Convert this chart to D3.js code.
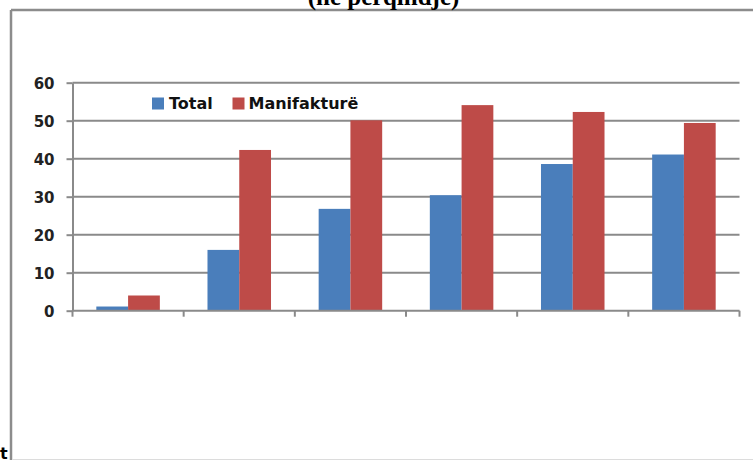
<!DOCTYPE html>
<html>
<head>
<meta charset="utf-8">
<script src="https://cdn.jsdelivr.net/npm/d3@7"></script>
<style>
  html, body { margin: 0; padding: 0; background: #fff; }
  svg { display: block; }
</style>
</head>
<body>
<svg id="chart" width="753" height="460"></svg>
<script>
// Chart data
const categories = ["1", "2", "3", "4", "5", "6"];
const seriesNames = ["Total", "Manifakturë"];
const totalValues = [1.1, 16.0, 26.8, 30.4, 38.6, 41.1];
const manifakturaValues = [4.0, 42.3, 50.1, 54.1, 52.3, 49.4];
const yTicks = [0, 10, 20, 30, 40, 50, 60];
const titleText = "(në përqindje)";

const seriesValues = [totalValues, manifakturaValues];
const colors = ["#4a7ebb", "#be4b48"];

const svg = d3.select("#chart");
const plot = { left: 72.5, right: 739.5, top: 82.7, bottom: 310.7 };

const x = d3.scaleBand().domain(categories).range([plot.left, plot.right]).padding(0);
const y = d3.scaleLinear().domain([0, 60]).range([plot.bottom, plot.top]);

// Bars take 2 of 3.5 bar widths per category (gap width 150%)
const barW = x.bandwidth() / 3.5;
const x1 = d3.scaleBand().domain(seriesNames).range([0, barW * 2]).padding(0);
const groupOffset = (x.bandwidth() - barW * 2) / 2;

const gridColor = "#8a8a8a";

// Outer frame (top and left edges)
svg.append("line").attr("x1", 11).attr("x2", 753).attr("y1", 10).attr("y2", 10)
  .attr("stroke", "#8c8c8c").attr("stroke-width", 2.5);
svg.append("line").attr("x1", 11).attr("x2", 11).attr("y1", 10).attr("y2", 460)
  .attr("stroke", "#8c8c8c").attr("stroke-width", 2.5);
svg.append("line").attr("x1", 12).attr("x2", 753).attr("y1", 459.5).attr("y2", 459.5)
  .attr("stroke", "#dcdcdc").attr("stroke-width", 1);

// Title, partly above the top edge
svg.append("text")
  .attr("x", 383.5).attr("y", 4.5)
  .attr("text-anchor", "middle")
  .attr("font-family", "'Liberation Serif', 'Times New Roman', serif")
  .attr("font-weight", "bold")
  .attr("font-size", 25)
  .attr("fill", "#000")
  .text(titleText);

// Stray label fragment at the bottom left
svg.append("text")
  .attr("x", 0).attr("y", 459)
  .attr("font-family", "'DejaVu Sans', sans-serif")
  .attr("font-weight", "bold")
  .attr("font-size", 16)
  .attr("fill", "#000")
  .text("t");

// Horizontal gridlines
svg.append("g")
  .selectAll("line")
  .data(yTicks.filter(d => d > 0))
  .join("line")
  .attr("x1", plot.left).attr("x2", plot.right)
  .attr("y1", d => y(d)).attr("y2", d => y(d))
  .attr("stroke", gridColor).attr("stroke-width", 2);

// Y axis
const yAxis = svg.append("g")
  .attr("transform", `translate(${plot.left},0)`)
  .call(d3.axisLeft(y).tickValues(yTicks).tickSize(6).tickSizeOuter(0).tickPadding(12));
yAxis.select(".domain").attr("stroke", gridColor).attr("stroke-width", 2);
yAxis.selectAll(".tick line").attr("stroke", gridColor).attr("stroke-width", 2);
yAxis.selectAll(".tick text")
  .attr("font-family", "'DejaVu Sans', sans-serif")
  .attr("font-weight", "bold")
  .attr("font-size", 15)
  .attr("fill", "#222")
  .attr("dy", "0.36em");

// Bars
const groups = svg.append("g")
  .selectAll("g")
  .data(categories)
  .join("g")
  .attr("transform", d => `translate(${x(d) + groupOffset},0)`);

groups.selectAll("rect")
  .data((c, i) => seriesNames.map((s, k) => ({ series: s, value: seriesValues[k][i], k })))
  .join("rect")
  .attr("x", d => x1(d.series))
  .attr("width", x1.bandwidth())
  .attr("y", d => y(d.value))
  .attr("height", d => y(0) - y(d.value))
  .attr("fill", d => colors[d.k]);

// X axis baseline with category boundary ticks
svg.append("line")
  .attr("x1", plot.left).attr("x2", plot.right)
  .attr("y1", y(0)).attr("y2", y(0))
  .attr("stroke", gridColor).attr("stroke-width", 2);
const boundaries = categories.map(c => x(c)).concat([x(categories[categories.length - 1]) + x.bandwidth()]);
svg.append("g")
  .selectAll("line")
  .data(boundaries)
  .join("line")
  .attr("x1", d => d).attr("x2", d => d)
  .attr("y1", y(0)).attr("y2", y(0) + 6)
  .attr("stroke", gridColor).attr("stroke-width", 2);

// Legend
const legendPos = [{ x: 152, tx: 169 }, { x: 232.5, tx: 248.5 }];
const legend = svg.append("g");
seriesNames.forEach((name, k) => {
  legend.append("rect")
    .attr("x", legendPos[k].x).attr("y", 97.5)
    .attr("width", 12).attr("height", 12)
    .attr("fill", colors[k]);
  legend.append("text")
    .attr("x", legendPos[k].tx).attr("y", 109)
    .attr("font-family", "'DejaVu Sans', sans-serif")
    .attr("font-weight", "bold")
    .attr("font-size", 16)
    .attr("fill", "#111")
    .text(name);
});
</script>
</body>
</html>
